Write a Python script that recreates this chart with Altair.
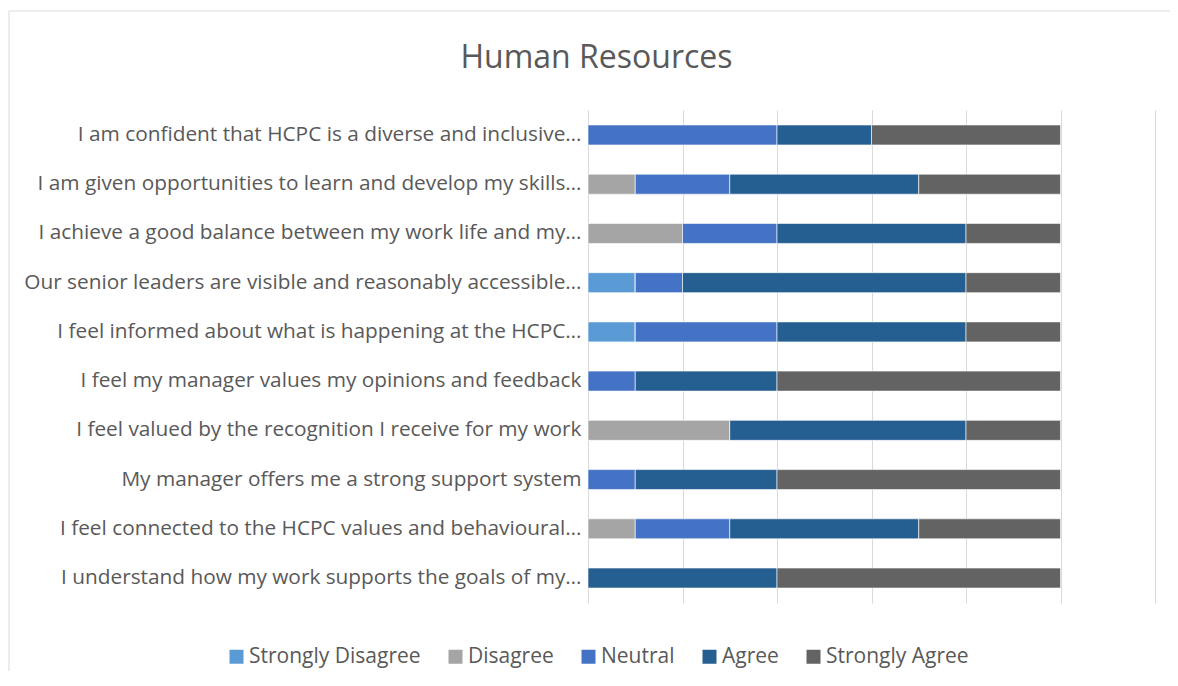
import altair as alt
import pandas as pd

questions = [
    "I am confident that HCPC is a diverse and inclusive…",
    "I am given opportunities to learn and develop my skills…",
    "I achieve a good balance between my work life and my…",
    "Our senior leaders are visible and reasonably accessible…",
    "I feel informed about what is happening at the HCPC…",
    "I feel my manager values my opinions and feedback",
    "I feel valued by the recognition I receive for my work",
    "My manager offers me a strong support system",
    "I feel connected to the HCPC values and behavioural…",
    "I understand how my work supports the goals of my…",
]
categories = ["Strongly Disagree", "Disagree", "Neutral", "Agree", "Strongly Agree"]
colors = ["#5B9BD5", "#A5A5A5", "#4472C4", "#255E91", "#636363"]

strongly_disagree = [0, 0, 0, 1, 1, 0, 0, 0, 0, 0]
disagree = [0, 1, 2, 0, 0, 0, 3, 0, 1, 0]
neutral = [4, 2, 2, 1, 3, 1, 0, 1, 2, 0]
agree = [2, 4, 4, 6, 4, 3, 5, 3, 4, 4]
strongly_agree = [4, 3, 2, 2, 2, 6, 2, 6, 3, 6]

series = [strongly_disagree, disagree, neutral, agree, strongly_agree]
rows = []
for ci, (cat, vals) in enumerate(zip(categories, series)):
    for q, v in zip(questions, vals):
        rows.append({"question": q, "response": cat, "order": ci, "count": v})
df = pd.DataFrame(rows)

FONT = "Open Sans"
TXT = "#595959"

bars = alt.Chart(df).mark_bar(stroke="#ffffff", strokeOpacity=0.6, strokeWidth=1).encode(
    y=alt.Y("question:N", sort=questions, title=None,
            scale=alt.Scale(paddingInner=0.594, paddingOuter=0.304),
            axis=alt.Axis(domain=False, ticks=False, labelPadding=7, labelFontSize=20.8,
                          labelColor=TXT, labelFont=FONT, labelLimit=600, grid=False)),
    x=alt.X("count:Q", stack="zero", title=None,
            scale=alt.Scale(domain=[0, 12], nice=False),
            axis=alt.Axis(values=[0, 2, 4, 6, 8, 10, 12], labels=False, ticks=False, domain=False,
                          grid=True, gridColor="#D9D9D9", gridWidth=1)),
    color=alt.Color("response:N", sort=categories,
                    scale=alt.Scale(domain=categories, range=colors),
                    legend=alt.Legend(title=None, orient="none", direction="horizontal",
                                      columns=5, legendX=-362, legendY=536,
                                      symbolType="square", symbolSize=196, symbolStrokeWidth=0,
                                      labelFontSize=21, labelColor=TXT, labelFont=FONT,
                                      labelLimit=400, columnPadding=24, symbolOffset=0,
                                      labelOffset=2)),
    order=alt.Order("order:Q"),
)

frame = alt.Chart(pd.DataFrame({"v": [0]})).mark_rect(
    fillOpacity=0, stroke="#D9D9D9", strokeWidth=1
).encode(x=alt.value(-579), x2=alt.value(640), y=alt.value(-99), y2=alt.value(700))

chart = alt.layer(frame, bars).properties(
    width=567,
    height=493,
    padding={"left": 580, "top": 102, "right": 15, "bottom": 68},
    autosize=alt.AutoSizeParams(type="none"),
    title=alt.TitleParams("Human Resources", fontSize=32, font=FONT, color=TXT,
                          fontWeight="normal", anchor="middle", dx=-275, offset=0, dy=64,
                          frame="group"),
).configure(background="white").configure_view(stroke=None)

chart.save("out.html", embed_options={"renderer": "svg", "actions": False})
